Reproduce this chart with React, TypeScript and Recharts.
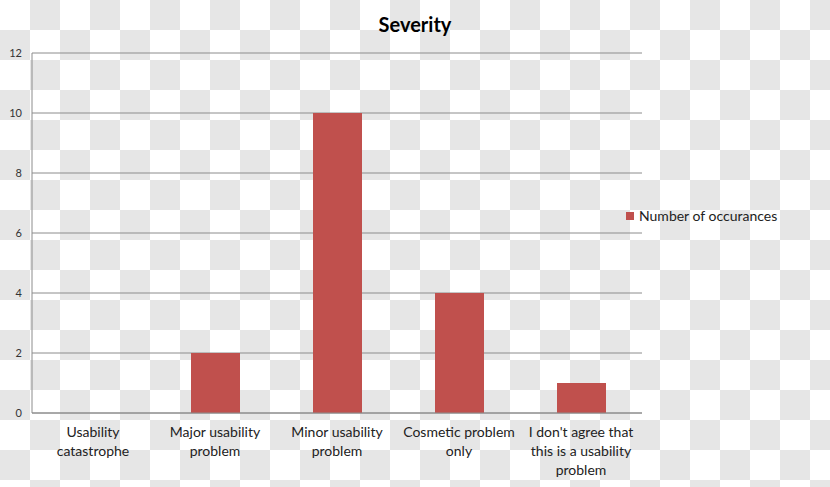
import React from "react";
import { BarChart, Bar, XAxis, YAxis, CartesianGrid } from "recharts";

const categories = [
  "Usability\ncatastrophe",
  "Major usability\nproblem",
  "Minor usability\nproblem",
  "Cosmetic problem\nonly",
  "I don't agree that\nthis is a usability\nproblem",
];
const occurrences = [0, 2, 10, 4, 1];
const yTicks = [0, 2, 4, 6, 8, 10, 12];
const seriesName = "Number of occurances";
const title = "Severity";

const data = categories.map((c, i) => ({ category: c, value: occurrences[i] }));

const FONT = "Lato, 'Open Sans', sans-serif";

const CategoryTick = (props: any) => {
  const { x, y, payload } = props;
  const lines = String(payload.value).split("\n");
  return (
    <text x={x} y={y} textAnchor="middle" fill="#222" fontSize={14} fontFamily={FONT}>
      {lines.map((l, i) => (
        <tspan key={i} x={x} dy={i === 0 ? 16 : 19}>
          {l}
        </tspan>
      ))}
    </text>
  );
};

export default function App() {
  return (
    <div
      style={{
        position: "absolute",
        left: 0,
        top: 0,
        width: 830,
        height: 487,
        backgroundColor: "#fff",
        backgroundImage: "conic-gradient(#e6e6e6 25%, #fff 0 50%, #e6e6e6 0 75%, #fff 0)",
        backgroundSize: "60px 60px",
        overflow: "hidden",
      }}
    >
      <div
        style={{
          position: "absolute",
          left: 0,
          top: 10,
          width: 830,
          textAlign: "center",
          fontFamily: FONT,
          fontWeight: 700,
          fontSize: 20,
          color: "#000",
          lineHeight: "28px",
        }}
      >
        {title}
      </div>
      <div
        style={{
          position: "absolute",
          left: 626,
          top: 207,
          display: "flex",
          alignItems: "center",
          fontFamily: FONT,
          fontSize: 14,
          lineHeight: "18px",
          color: "#222",
          whiteSpace: "nowrap",
        }}
      >
        <span style={{ display: "inline-block", width: 8, height: 8, background: "#c0504d", marginRight: 5 }} />
        <span>{seriesName}</span>
      </div>
      <BarChart
        width={830}
        height={487}
        data={data}
        margin={{ top: 53, right: 188, bottom: 0, left: 0 }}
        barCategoryGap={0}
        style={{ position: "absolute", left: 0, top: 0 }}
      >
        <CartesianGrid vertical={false} stroke="#8c8c8c" strokeWidth={1} />
        <XAxis
          dataKey="category"
          interval={0}
          height={74}
          tickLine={false}
          axisLine={{ stroke: "#8c8c8c" }}
          tick={<CategoryTick />}
        />
        <YAxis
          width={32}
          domain={[0, 12]}
          ticks={yTicks}
          tickLine={false}
          axisLine={{ stroke: "#8c8c8c" }}
          tickMargin={4}
          tick={{ fill: "#333", fontSize: 11, fontFamily: FONT }}
        />
        <Bar dataKey="value" name={seriesName} fill="#c0504d" barSize={49} isAnimationActive={false} />
      </BarChart>
    </div>
  );
}
